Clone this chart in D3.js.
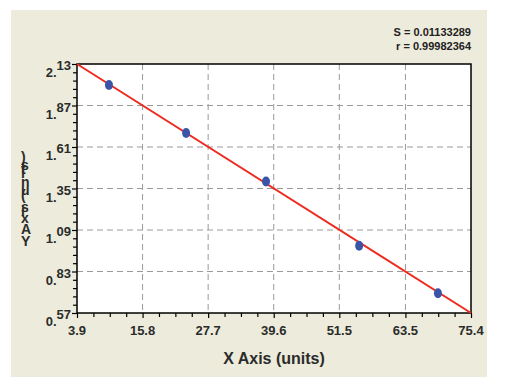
<!DOCTYPE html>
<html>
<head>
<meta charset="utf-8">
<script src="https://d3js.org/d3.v7.min.js"></script>
<style>
    body { margin: 0; background: #ffffff; }
    text { font-family: "Liberation Sans", Arial, sans-serif; font-weight: bold; }
</style>
</head>
<body>
<div id="graph"></div>
<script>
window.onload = start;

// standard curve points
var xValues = [9.7, 23.7, 38.2, 55.1, 69.4];
var yValues = [1.998, 1.698, 1.394, 0.991, 0.694];

// fitted line end points
var fitX = [3.9, 75.4];
var fitY = [2.13, 0.57];

var xTicks = [3.9, 15.8, 27.7, 39.6, 51.5, 63.5, 75.4];
var yTicks = [0.57, 0.83, 1.09, 1.35, 1.61, 1.87, 2.13];

var statLines = ["S = 0.01133289", "r = 0.99982364"];

var svg;
var xScale;
var yScale;
var margin;
var width;
var height;

function start() {
    var graph = document.getElementById('graph');
    width = 530;
    height = 385;
    margin = {top: 64, right: 59, bottom: 72, left: 77};

    svg = d3.select(graph)
        .append("svg")
        .attr("width", width)
        .attr("height", height);

    // beige panel
    svg.append("rect")
        .attr("x", 11)
        .attr("y", 10)
        .attr("width", 476)
        .attr("height", 367)
        .attr("fill", "#edebdb");

    xScale = d3.scaleLinear().domain([3.9, 75.4]).range([margin.left, width - margin.right]);
    yScale = d3.scaleLinear().domain([0.57, 2.13]).range([height - margin.bottom, margin.top]);

    var x0 = xScale.range()[0], x1 = xScale.range()[1];
    var y0 = yScale.range()[0], y1 = yScale.range()[1];

    svg.append("rect")
        .attr("x", x0)
        .attr("y", y1)
        .attr("width", x1 - x0)
        .attr("height", y0 - y1)
        .attr("fill", "#ffffff");

    // dashed grid
    svg.selectAll(".vgrid")
        .data(xTicks.slice(1, -1))
        .enter()
        .append("line")
        .attr("class", "vgrid")
        .attr("x1", function(d) { return xScale(d) })
        .attr("x2", function(d) { return xScale(d) })
        .attr("y1", y1)
        .attr("y2", y0)
        .attr("stroke", "#9a9a9a")
        .attr("stroke-width", 1)
        .attr("stroke-dasharray", "6,4");

    svg.selectAll(".hgrid")
        .data(yTicks.slice(1, -1))
        .enter()
        .append("line")
        .attr("class", "hgrid")
        .attr("x1", x0)
        .attr("x2", x1)
        .attr("y1", function(d) { return yScale(d) })
        .attr("y2", function(d) { return yScale(d) })
        .attr("stroke", "#9a9a9a")
        .attr("stroke-width", 1)
        .attr("stroke-dasharray", "6,4");

    // minor ticks (4 per x interval, 5 per y interval)
    var xMinor = [], yMinor = [];
    for (var i = 0; i < xTicks.length - 1; i++) {
        for (var k = 1; k < 4; k++) xMinor.push(xTicks[i] + (xTicks[i + 1] - xTicks[i]) * k / 4);
    }
    for (var j = 0; j < yTicks.length - 1; j++) {
        for (var m = 1; m < 5; m++) yMinor.push(yTicks[j] + (yTicks[j + 1] - yTicks[j]) * m / 5);
    }

    var xAxis = d3.axisBottom(xScale).tickValues(xTicks).tickSize(5).tickFormat("");
    var xAxisMinor = d3.axisBottom(xScale).tickValues(xMinor).tickSize(4).tickFormat("");
    var yAxis = d3.axisLeft(yScale).tickValues(yTicks).tickSize(5).tickFormat("");
    var yAxisMinor = d3.axisLeft(yScale).tickValues(yMinor).tickSize(4).tickFormat("");

    svg.append("g")
        .attr("transform", "translate(0," + y0 + ")")
        .call(xAxis);
    svg.append("g")
        .attr("transform", "translate(0," + y0 + ")")
        .call(xAxisMinor);
    svg.append("g")
        .attr("transform", "translate(" + x0 + ",0)")
        .call(yAxis);
    svg.append("g")
        .attr("transform", "translate(" + x0 + ",0)")
        .call(yAxisMinor);

    svg.selectAll(".domain").attr("stroke", "none");
    svg.selectAll(".tick line").attr("stroke", "#000").attr("stroke-width", 1.2);

    // plot frame
    svg.append("rect")
        .attr("x", x0)
        .attr("y", y1)
        .attr("width", x1 - x0)
        .attr("height", y0 - y1)
        .attr("fill", "none")
        .attr("stroke", "#000")
        .attr("stroke-width", 1.5);

    // x tick labels
    svg.selectAll(".xlab")
        .data(xTicks)
        .enter()
        .append("text")
        .attr("class", "xlab")
        .attr("x", function(d) { return xScale(d) })
        .attr("y", y0 + 22)
        .attr("text-anchor", "middle")
        .attr("font-size", "13px")
        .attr("fill", "#2b2b2b")
        .text(function(d) { return d.toFixed(1) });

    // y tick labels, drawn stepped like the original
    var ylab = svg.selectAll(".ylab")
        .data(yTicks)
        .enter()
        .append("text")
        .attr("class", "ylab")
        .attr("x", x0 - 6)
        .attr("y", function(d) { return yScale(d) + 13 })
        .attr("text-anchor", "end")
        .attr("font-size", "13px")
        .attr("fill", "#2b2b2b");
    ylab.append("tspan")
        .text(function(d) { return d.toFixed(2).slice(0, 2) });
    ylab.append("tspan")
        .attr("dy", -7)
        .text(function(d) { return d.toFixed(2).slice(2) });

    // fitted line
    var fitData = fitX.map(function(d, i) { return {x: d, y: fitY[i]} });
    svg.append("path")
        .datum(fitData)
        .attr("fill", "none")
        .attr("stroke", "#ee2a1f")
        .attr("stroke-width", 2)
        .attr("d", d3.line()
            .x(function(d) { return xScale(d.x) })
            .y(function(d) { return yScale(d.y) }));

    // points
    svg.selectAll(".point")
        .data(xValues)
        .enter()
        .append("ellipse")
        .attr("class", "point")
        .attr("cx", function(d) { return xScale(d) })
        .attr("cy", function(d, i) { return yScale(yValues[i]) })
        .attr("rx", 4)
        .attr("ry", 5)
        .attr("fill", "#3a55a8");

    // stats
    svg.selectAll(".stat")
        .data(statLines)
        .enter()
        .append("text")
        .attr("class", "stat")
        .attr("x", x1)
        .attr("y", function(d, i) { return 36 + i * 14 })
        .attr("text-anchor", "end")
        .attr("font-size", "11px")
        .attr("fill", "#222")
        .text(function(d) { return d });

    // axis titles
    svg.append("text")
        .attr("x", (x0 + x1) / 2)
        .attr("y", 364)
        .attr("text-anchor", "middle")
        .attr("font-size", "16px")
        .attr("fill", "#2b2b2b")
        .text("X Axis (units)");

    svg.append("text")
        .attr("transform", "translate(21,246) rotate(-90)")
        .attr("rotate", 90)
        .attr("font-size", "14px")
        .attr("fill", "#2b2b2b")
        .text("Y Axis (units)");
}
</script>
</body>
</html>
